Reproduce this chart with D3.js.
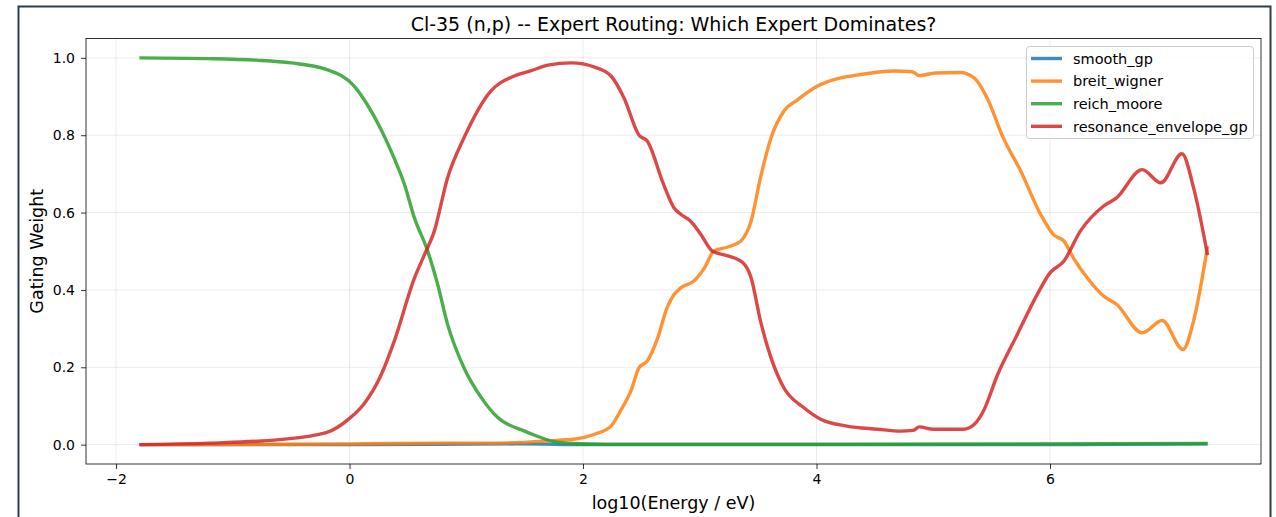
<!DOCTYPE html>
<html>
<head>
<meta charset="utf-8">
<script src="https://cdn.jsdelivr.net/npm/d3@7"></script>
<style>
  html, body { margin: 0; padding: 0; background: #fff; }
  svg { display: block; font-family: "DejaVu Sans", sans-serif; }
</style>
</head>
<body>
<svg id="chart" width="1276" height="517"></svg>
<script>
// Gating weights of each expert versus log10 energy
const seriesNames = ["smooth_gp", "breit_wigner", "reich_moore", "resonance_envelope_gp"];
const seriesColors = ["#1f77b4", "#ff7f0e", "#2ca02c", "#d62728"];

const smoothLogE = [-1.8, 0.0, 1.5, 2.0, 4.0, 6.0, 7.35];
const smoothW    = [0.0, 0.0, 0.002, 0.0, 0.0, 0.0, 0.002];

const breitLogE = [-1.8, -0.6, 0.0, 0.8, 1.2, 1.5, 1.7, 1.92, 2.1, 2.24, 2.32, 2.41, 2.48, 2.55, 2.64, 2.72, 2.78, 2.84, 2.95, 3.04, 3.12, 3.24, 3.35, 3.44, 3.52, 3.61, 3.72, 3.84, 4.01, 4.18, 4.38, 4.66, 4.82, 4.88, 5.02, 5.23, 5.35, 5.46, 5.6, 5.75, 5.92, 6.03, 6.12, 6.2, 6.32, 6.46, 6.57, 6.79, 6.96, 7.14, 7.23, 7.35];
const breitW    = [0.0, 0.001, 0.002, 0.004, 0.004, 0.006, 0.010, 0.014, 0.027, 0.048, 0.087, 0.139, 0.199, 0.216, 0.276, 0.354, 0.388, 0.406, 0.423, 0.457, 0.500, 0.511, 0.526, 0.578, 0.690, 0.793, 0.862, 0.892, 0.927, 0.946, 0.957, 0.966, 0.964, 0.954, 0.961, 0.962, 0.948, 0.897, 0.793, 0.707, 0.595, 0.543, 0.526, 0.483, 0.431, 0.384, 0.363, 0.289, 0.321, 0.246, 0.320, 0.513];

const reichLogE = [-1.8, -1.2, -0.8, -0.5, -0.2, 0.04, 0.15, 0.27, 0.38, 0.47, 0.555, 0.67, 0.755, 0.84, 0.98, 1.13, 1.27, 1.5, 1.58, 1.75, 1.92, 2.2, 4.0, 7.35];
const reichW    = [1.0, 0.998, 0.994, 0.987, 0.970, 0.927, 0.880, 0.815, 0.742, 0.673, 0.587, 0.500, 0.414, 0.311, 0.199, 0.121, 0.070, 0.035, 0.025, 0.008, 0.003, 0.001, 0.001, 0.003];

const envLogE = [-1.8, -1.2, -0.6, -0.2, 0.0, 0.12, 0.27, 0.38, 0.555, 0.64, 0.726, 0.84, 0.98, 1.21, 1.41, 1.55, 1.7, 1.9, 2.1, 2.24, 2.35, 2.48, 2.55, 2.69, 2.78, 2.84, 2.92, 3.01, 3.11, 3.24, 3.37, 3.44, 3.52, 3.61, 3.72, 3.89, 4.04, 4.26, 4.52, 4.72, 4.83, 4.88, 5.0, 5.26, 5.35, 5.43, 5.55, 5.72, 5.89, 6.0, 6.12, 6.26, 6.46, 6.57, 6.79, 6.95, 7.13, 7.23, 7.35];
const envW    = [0.0, 0.004, 0.013, 0.031, 0.068, 0.104, 0.180, 0.265, 0.430, 0.490, 0.552, 0.690, 0.793, 0.914, 0.953, 0.966, 0.981, 0.987, 0.976, 0.953, 0.897, 0.800, 0.785, 0.673, 0.612, 0.595, 0.578, 0.543, 0.500, 0.488, 0.470, 0.431, 0.320, 0.225, 0.147, 0.096, 0.065, 0.048, 0.040, 0.035, 0.037, 0.046, 0.040, 0.040, 0.052, 0.087, 0.180, 0.285, 0.388, 0.444, 0.475, 0.552, 0.617, 0.638, 0.711, 0.677, 0.752, 0.664, 0.490];

const xTicks = [-2, 0, 2, 4, 6];
const yTicks = [0.0, 0.2, 0.4, 0.6, 0.8, 1.0];

const titleText = "Cl-35 (n,p) -- Expert Routing: Which Expert Dominates?";
const xLabel = "log10(Energy / eV)";
const yLabel = "Gating Weight";

const series = [
  { name: seriesNames[0], color: seriesColors[0], x: smoothLogE, y: smoothW },
  { name: seriesNames[1], color: seriesColors[1], x: breitLogE, y: breitW },
  { name: seriesNames[2], color: seriesColors[2], x: reichLogE, y: reichW },
  { name: seriesNames[3], color: seriesColors[3], x: envLogE, y: envW }
];

const svg = d3.select("#chart");
const plot = { left: 86, top: 38.5, right: 1261, bottom: 464 };

// Outer figure frame
svg.append("rect")
  .attr("x", 18.5).attr("y", 6.5)
  .attr("width", 1252).attr("height", 600)
  .attr("fill", "#fff")
  .attr("stroke", "#2c3e50").attr("stroke-width", 2);

// Axis ranges padded by 5% around the data
const xMin = -1.8, xMax = 7.35;
const xPad = (xMax - xMin) * 0.05;
const x = d3.scaleLinear().domain([xMin - xPad, xMax + xPad]).range([plot.left, plot.right]);
const y = d3.scaleLinear().domain([-0.05, 1.05]).range([plot.bottom, plot.top]);

// Grid
const grid = svg.append("g");
grid.selectAll("line.gx").data(xTicks).join("line")
  .attr("x1", d => x(d)).attr("x2", d => x(d))
  .attr("y1", plot.top).attr("y2", plot.bottom)
  .attr("stroke", "#b0b0b0").attr("stroke-opacity", 0.3).attr("stroke-width", 0.8);
grid.selectAll("line.gy").data(yTicks).join("line")
  .attr("x1", plot.left).attr("x2", plot.right)
  .attr("y1", d => y(d)).attr("y2", d => y(d))
  .attr("stroke", "#b0b0b0").attr("stroke-opacity", 0.3).attr("stroke-width", 0.8);

// Curves
svg.append("clipPath").attr("id", "plotclip").append("rect")
  .attr("x", plot.left).attr("y", plot.top)
  .attr("width", plot.right - plot.left).attr("height", plot.bottom - plot.top);

const line = d3.line()
  .x(d => x(d[0])).y(d => y(d[1]))
  .curve(d3.curveMonotoneX);

const curves = svg.append("g").attr("clip-path", "url(#plotclip)");
series.forEach(s => {
  const pts = s.x.map((v, i) => [v, s.y[i]]);
  curves.append("path")
    .datum(pts)
    .attr("d", line)
    .attr("fill", "none")
    .attr("stroke", s.color)
    .attr("stroke-opacity", 0.85)
    .attr("stroke-width", 3.4)
    .attr("stroke-linejoin", "round");
});

// Axes
const xAxis = d3.axisBottom(x).tickValues(xTicks).tickSize(5).tickPadding(5)
  .tickFormat(d => d < 0 ? "\u2212" + Math.abs(d) : String(d));
const yAxis = d3.axisLeft(y).tickValues(yTicks).tickSize(5).tickPadding(6)
  .tickFormat(d3.format(".1f"));

const gx = svg.append("g").attr("transform", `translate(0,${plot.bottom})`).call(xAxis);
const gy = svg.append("g").attr("transform", `translate(${plot.left},0)`).call(yAxis);
[gx, gy].forEach(g => {
  g.select(".domain").remove();
  g.selectAll(".tick line").attr("stroke", "#000").attr("stroke-width", 0.8);
  g.selectAll(".tick text").attr("fill", "#000").style("font-size", "14px")
    .style("font-family", "DejaVu Sans, sans-serif");
});

// Plot frame
svg.append("rect")
  .attr("x", plot.left).attr("y", plot.top)
  .attr("width", plot.right - plot.left).attr("height", plot.bottom - plot.top)
  .attr("fill", "none").attr("stroke", "#000").attr("stroke-width", 0.8);

// Title and labels
svg.append("text")
  .attr("x", (plot.left + plot.right) / 2).attr("y", 31)
  .attr("text-anchor", "middle")
  .style("font-size", "19px")
  .text(titleText);

svg.append("text")
  .attr("x", (plot.left + plot.right) / 2).attr("y", 509)
  .attr("text-anchor", "middle")
  .style("font-size", "17.5px")
  .text(xLabel);

svg.append("text")
  .attr("transform", `translate(43,${(plot.top + plot.bottom) / 2}) rotate(-90)`)
  .attr("text-anchor", "middle")
  .style("font-size", "17.5px")
  .text(yLabel);

// Legend
const leg = svg.append("g");
leg.append("rect")
  .attr("x", 1026.5).attr("y", 46.5)
  .attr("width", 227).attr("height", 92)
  .attr("rx", 3)
  .attr("fill", "#fff").attr("fill-opacity", 0.8)
  .attr("stroke", "#cccccc").attr("stroke-width", 1);
series.forEach((s, i) => {
  const cy = 58.5 + i * 22.6;
  leg.append("line")
    .attr("x1", 1031).attr("x2", 1062)
    .attr("y1", cy).attr("y2", cy)
    .attr("stroke", s.color).attr("stroke-opacity", 0.85).attr("stroke-width", 3.4);
  leg.append("text")
    .attr("x", 1073).attr("y", cy + 5.2)
    .style("font-size", "14.5px")
    .text(s.name);
});
</script>
</body>
</html>
